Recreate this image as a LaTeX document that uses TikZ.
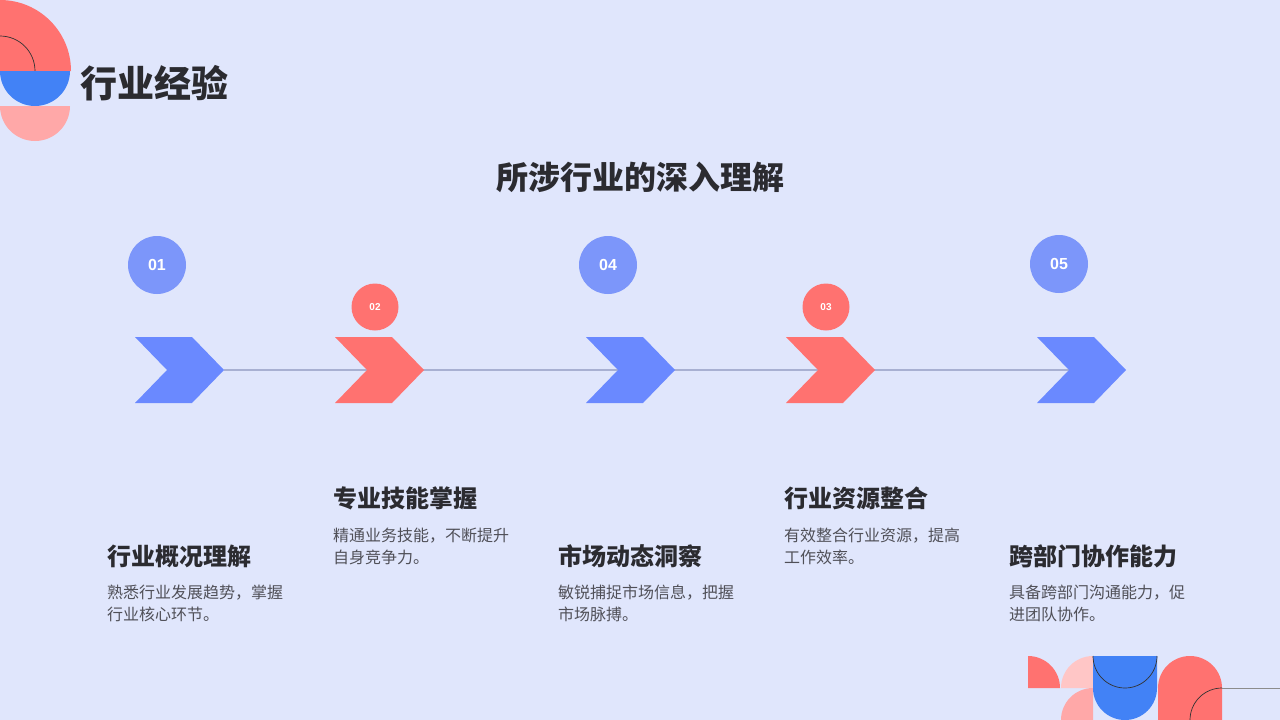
\documentclass[tikz,border=0pt]{standalone}
\usepackage{fontspec}
\setmainfont{Noto Sans CJK SC}
\setsansfont{Liberation Sans}
\definecolor{bgc}{RGB}{224,230,252}
\definecolor{chevblue}{RGB}{106,137,255}
\definecolor{circblue}{RGB}{124,150,250}
\definecolor{redc}{RGB}{255,114,112}
\definecolor{tlblue}{RGB}{66,130,246}
\definecolor{pinkc}{RGB}{255,168,168}
\definecolor{lpink}{RGB}{255,198,198}
\definecolor{linec}{RGB}{168,176,210}
\definecolor{headc}{RGB}{43,43,48}
\definecolor{descc}{RGB}{80,80,88}
\begin{document}
\begin{tikzpicture}[x=1pt,y=-1pt,
  bignum/.style={circle,fill=circblue,minimum size=58pt,inner sep=0,text=white,font=\sffamily\bfseries\fontsize{16}{16}\selectfont},
  smallnum/.style={circle,fill=redc,minimum size=47pt,inner sep=0,text=white,font=\sffamily\bfseries\fontsize{10}{10}\selectfont},
  head/.style={anchor=west,inner sep=0,text=headc,font=\bfseries\fontsize{24}{24}\selectfont},
  desc/.style={anchor=north west,inner sep=0,text=descc,align=left,font=\fontsize{16}{22}\selectfont},
  thinarc/.style={draw=black!80,line width=0.7pt}]
\useasboundingbox (0,0) rectangle (1280,720);
\fill[bgc] (0,0) rectangle (1280,720);
\begin{scope}
\clip (0,0) rectangle (1280,720);
% top-left decoration
\fill[redc] (0,71) -- (0,0) arc[start angle=270,end angle=360,radius=71] -- cycle;
\draw[thinarc] (0,36) arc[start angle=270,end angle=360,radius=35];
\fill[tlblue] (0,71) -- (70,71) arc[start angle=0,end angle=180,radius=35] -- cycle;
\fill[pinkc] (0,106) -- (70,106) arc[start angle=0,end angle=180,radius=35] -- cycle;
% bottom-right decoration
\fill[redc] (1028,688) -- (1028,656) arc[start angle=270,end angle=360,radius=32] -- cycle;
\fill[lpink] (1093,688) -- (1061,688) arc[start angle=180,end angle=270,radius=32] -- cycle;
\fill[pinkc] (1093,720) -- (1061,720) arc[start angle=180,end angle=270,radius=32] -- cycle;
\fill[tlblue] (1093,656) -- (1157,656) -- (1157,688) arc[start angle=0,end angle=180,radius=32] -- cycle;
\draw[thinarc] (1093,656) arc[start angle=180,end angle=0,radius=32];
\fill[redc] (1158,720) -- (1158,688) arc[start angle=180,end angle=360,radius=32] -- (1222,720) -- cycle;
\draw[thinarc] (1190,720) arc[start angle=180,end angle=270,radius=32];
\coordinate (decoR) at (1222,688);
\coordinate (edgeR) at (1280,688);
\draw[line width=1pt,draw=black!45] (decoR) -- (edgeR);
\end{scope}
% titles
\node[anchor=west,inner sep=0,text=headc,font=\bfseries\fontsize{37}{37}\selectfont] (title) at (80,83) {行业经验};
\node[inner sep=0,text=headc,font=\bfseries\fontsize{32}{32}\selectfont] (sub) at (640,177) {所涉行业的深入理解};
% timeline line
\coordinate (lstart) at (224,370);
\coordinate (lend) at (1069,370);
\draw[linec,line width=2pt] (lstart) -- (lend);
% chevrons
\foreach \L/\c/\n in {135/chevblue/c1,335/redc/c2,586/chevblue/c4,786/redc/c3,1037/chevblue/c5}{
  \fill[\c] (\L,337) -- (\L+57,337) -- (\L+89,370) -- (\L+57,403) -- (\L,403) -- (\L+32,370) -- cycle;
  \coordinate (\n) at (\L+44,370);
}
% number circles
\node[bignum] (n1) at (157,265) {01};
\node[bignum] (n4) at (608,265) {04};
\node[bignum] (n5) at (1059,264) {05};
\node[smallnum] (n2) at (375,307) {02};
\node[smallnum] (n3) at (826,307) {03};
% texts
\node[head] (h1) at (107,556) {行业概况理解};
\node[desc] (d1) at (107,585) {熟悉行业发展趋势，掌握\\行业核心环节。};
\node[head] (h2) at (333,498) {专业技能掌握};
\node[desc] (d2) at (333,528) {精通业务技能，不断提升\\自身竞争力。};
\node[head] (h3) at (558,556) {市场动态洞察};
\node[desc] (d3) at (558,585) {敏锐捕捉市场信息，把握\\市场脉搏。};
\node[head] (h4) at (784,498) {行业资源整合};
\node[desc] (d4) at (784,528) {有效整合行业资源，提高\\工作效率。};
\node[head] (h5) at (1009,556) {跨部门协作能力};
\node[desc] (d5) at (1009,585) {具备跨部门沟通能力，促\\进团队协作。};
\end{tikzpicture}
\end{document}
